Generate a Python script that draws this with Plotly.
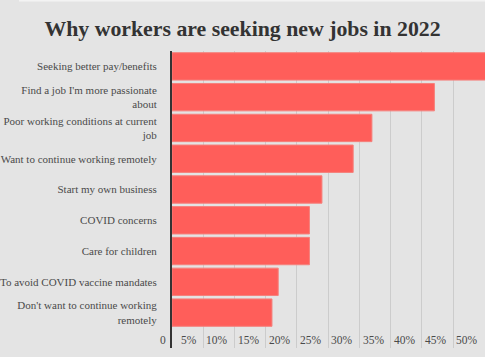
import plotly.graph_objects as go

categories = [
    "Seeking better pay/benefits",
    "Find a job I'm more passionate<br>about",
    "Poor working conditions at current<br>job",
    "Want to continue working remotely",
    "Start my own business",
    "COVID concerns",
    "Care for children",
    "To avoid COVID vaccine mandates",
    "Don't want to continue working<br>remotely",
]
values = [52, 42, 32, 29, 24, 22, 22, 17, 16]
tick_values = [0, 5, 10, 15, 20, 25, 30, 35, 40, 45, 50]
tick_labels = ["0", "5%", "10%", "15%", "20%", "25%", "30%", "35%", "40%", "45%", "50%"]

positions = list(range(len(categories)))

BG = "#e4e4e4"
SERIF = "Liberation Serif, DejaVu Serif, serif"

fig = go.Figure()
fig.add_trace(go.Bar(
    x=values,
    y=positions,
    orientation="h",
    marker=dict(color="#ff5e5a", line=dict(color="#f5807c", width=1)),
    width=0.89,
    hoverinfo="skip",
))

annotations = []
for v, t in zip(tick_values, tick_labels):
    annotations.append(dict(
        x=v, y=0, xref="x", yref="paper",
        text=t, showarrow=False,
        xanchor="right", yanchor="bottom",
        xshift=-4, yshift=0,
        font=dict(family=SERIF, size=11.5, color="#4a4a4a"),
    ))

fig.update_layout(
    width=485, height=357,
    paper_bgcolor=BG, plot_bgcolor=BG,
    margin=dict(l=170, r=0, t=51, b=9),
    showlegend=False,
    title=dict(
        text="<b>Why workers are seeking new jobs in 2022</b>",
        x=0.5, xref="container", xanchor="center",
        y=1 - 28.5 / 357, yref="container", yanchor="middle",
        font=dict(family=SERIF, size=21.8, color="#333333"),
    ),
    xaxis=dict(
        range=[0, 50.1],
        tickvals=tick_values,
        showticklabels=False,
        showgrid=True, gridcolor="#cccccc", gridwidth=1,
        zeroline=False, showline=False, ticks="",
        fixedrange=True,
    ),
    yaxis=dict(
        range=[9.15, -0.5],
        tickvals=positions,
        ticktext=categories,
        showgrid=False, zeroline=False,
        showline=True, linecolor="#333333", linewidth=2,
        ticks="", ticklabelstandoff=11,
        tickfont=dict(family=SERIF, size=11, color="#4a4a4a"),
        fixedrange=True,
    ),
    annotations=annotations,
    shapes=[dict(
        type="rect", xref="paper", yref="paper",
        x0=(16 - 170) / 315, x1=1.0,
        y0=(348 - 1.5) / 297, y1=(348 + 2) / 297,
        fillcolor="#f3f3f3", line=dict(width=0), layer="above",
    )],
)

fig.write_html(
    "out.html",
    config={"displayModeBar": False},
    post_script="document.body.style.margin='0';document.body.style.overflow='hidden';",
)
